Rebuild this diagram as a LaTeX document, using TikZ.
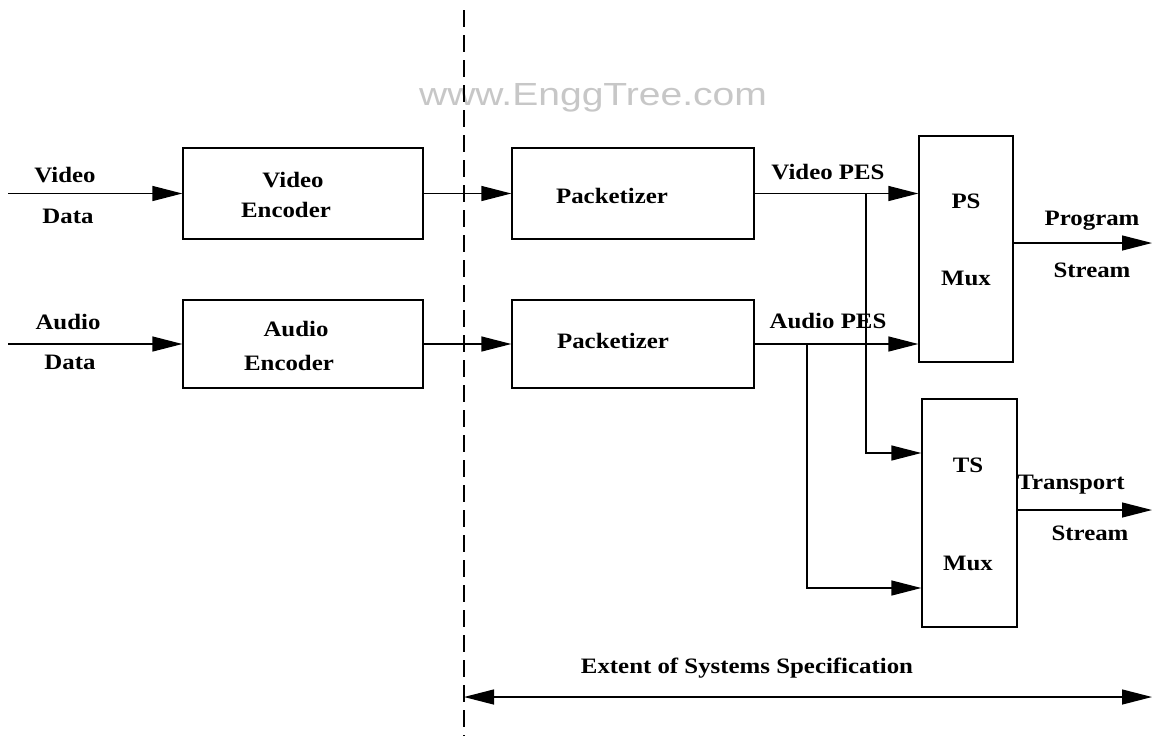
\documentclass[tikz,border=0pt]{standalone}
\usepackage{fontspec}
\setmainfont{Liberation Serif}[FakeStretch=1.13]
\newfontfamily\wmfont{Liberation Sans}[FakeStretch=1.22]
\usetikzlibrary{arrows.meta}
\begin{document}
\begin{tikzpicture}[x=1pt,y=-1pt,
  lw/.style={line width=1.3pt},
  box/.style={draw, lw, inner sep=0pt},
  arr/.style={lw, -{Triangle[length=30pt,width=15pt]}},
  lbl/.style={font=\fontsize{22}{22}\selectfont\bfseries, inner sep=0pt, text height=15pt, text depth=0pt},
  wm/.style={font=\wmfont\fontsize{32}{32}\selectfont, text=black!22, inner sep=0pt}
]
\useasboundingbox (0,0) rectangle (1154,740);
\fill[white] (0,0) rectangle (1154,740);

% watermark
\node[wm] (water) at (593,98) {www.EnggTree.com};

% dashed boundary
\coordinate (dtop) at (464,10);
\coordinate (dbot) at (464,736);
\draw[lw, dash pattern=on 17pt off 8pt] (dtop) -- (dbot);

% boxes
\node[box, minimum width=240pt, minimum height=91pt] (venc) at (303,193.5) {};
\node[box, minimum width=240pt, minimum height=88pt] (aenc) at (303,344) {};
\node[box, minimum width=242pt, minimum height=91pt] (pk1) at (633,193.5) {};
\node[box, minimum width=242pt, minimum height=88pt] (pk2) at (633,344) {};
\node[box, minimum width=94pt, minimum height=226pt] (psmux) at (966,249) {};
\node[box, minimum width=95pt, minimum height=228pt] (tsmux) at (969.5,513) {};

% box texts
\node[lbl] (t-venc1) at (293,180) {Video};
\node[lbl] (t-venc2) at (286,210) {Encoder};
\node[lbl] (t-aenc1) at (296,329) {Audio};
\node[lbl] (t-aenc2) at (289,363) {Encoder};
\node[lbl] (t-pk1) at (612,196) {Packetizer};
\node[lbl] (t-pk2) at (613,341) {Packetizer};
\node[lbl] (t-ps1) at (966,201) {PS};
\node[lbl] (t-ps2) at (966,278) {Mux};
\node[lbl] (t-ts1) at (968,465) {TS};
\node[lbl] (t-ts2) at (968,563) {Mux};

% inputs
\coordinate (vin) at (8,193.5);
\coordinate (ain) at (8,344);
\draw[arr] (vin) -- (venc.west);
\draw[arr] (ain) -- (aenc.west);
\node[lbl] (l-vd1) at (65,175) {Video};
\node[lbl] (l-vd2) at (68,216) {Data};
\node[lbl] (l-ad1) at (68,322) {Audio};
\node[lbl] (l-ad2) at (70,362) {Data};

% encoder -> packetizer
\draw[arr] (venc.east) -- (pk1.west);
\draw[arr] (aenc.east) -- (pk2.west);

% PES lines
\draw[arr] (pk1.east) -- (pk1.east -| psmux.west);
\draw[arr] (pk2.east) -- (pk2.east -| psmux.west);
\node[lbl] (l-vpes) at (828,172) {Video PES};
\node[lbl] (l-apes) at (828,321) {Audio PES};

% branches to TS mux
\coordinate (brV) at (866,193.5);
\coordinate (brA) at (807,344);
\draw[arr] (brV) |- ([yshift=60pt]tsmux.west);
\draw[arr] (brA) |- ([yshift=-75pt]tsmux.west);

% outputs
\coordinate (pout) at (1152,243);
\coordinate (tout) at (1152,510);
\draw[arr] ([yshift=6pt]psmux.east) -- (pout);
\draw[arr] ([yshift=3pt]tsmux.east) -- (tout);
\node[lbl] (l-prog1) at (1092,218) {Program};
\node[lbl] (l-prog2) at (1092,270) {Stream};
\node[lbl] (l-tr1) at (1071,482) {Transport};
\node[lbl] (l-tr2) at (1090,533) {Stream};

% extent arrow
\coordinate (extL) at (464,697);
\coordinate (extR) at (1152,697);
\draw[lw, {Triangle[length=30pt,width=15pt]}-{Triangle[length=30pt,width=15pt]}] (extL) -- (extR);
\node[lbl] (l-ext) at (747,666) {Extent of Systems Specification};
\end{tikzpicture}
\end{document}
